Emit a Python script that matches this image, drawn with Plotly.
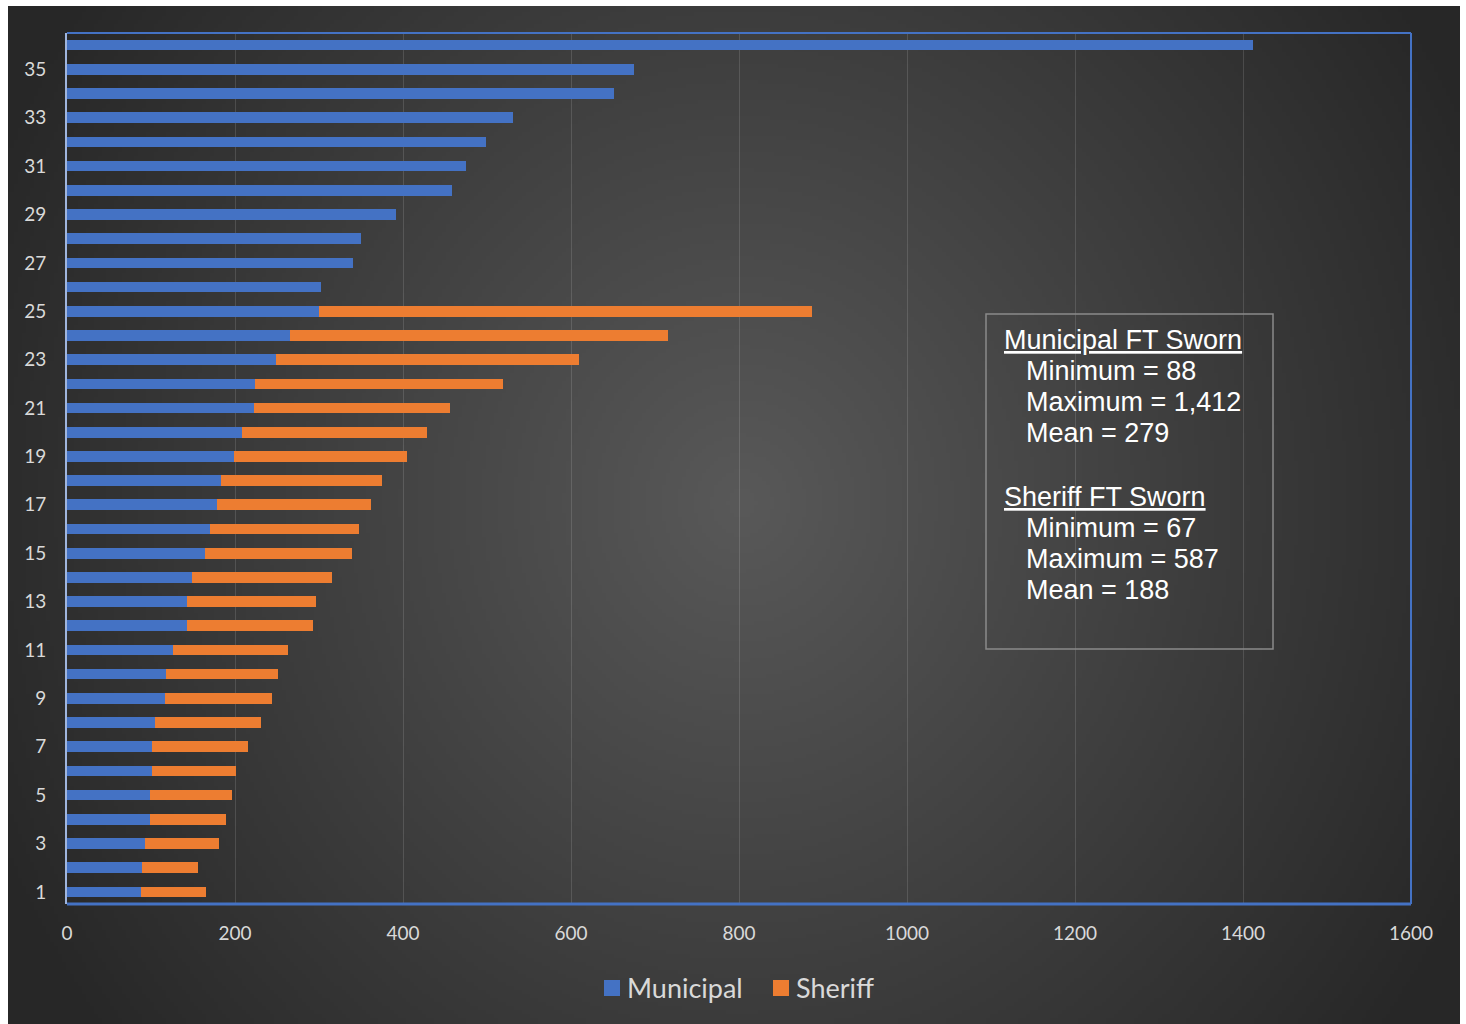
import base64
import struct
import zlib

import numpy as np
import plotly.graph_objects as go

# ---------------- data ----------------
agencies = [1, 2, 3, 4, 5, 6, 7, 8, 9, 10, 11, 12, 13, 14, 15, 16, 17, 18,
            19, 20, 21, 22, 23, 24, 25, 26, 27, 28, 29, 30, 31, 32, 33, 34, 35, 36]
municipal = [88, 89, 93, 99, 99, 101, 101, 105, 117, 118, 126, 143, 143, 149, 164, 170, 179, 183,
             199, 208, 223, 224, 249, 265, 300, 302, 340, 350, 392, 458, 475, 499, 531, 651, 675, 1412]
sheriff = [77, 67, 88, 90, 97, 100, 114, 126, 127, 133, 137, 150, 153, 167, 175, 178, 183, 192,
           206, 221, 233, 295, 361, 450, 587, None, None, None, None, None, None, None, None, None, None, None]
y_tick_vals = [1, 3, 5, 7, 9, 11, 13, 15, 17, 19, 21, 23, 25, 27, 29, 31, 33, 35]
y_tick_text = ["1", "3", "5", "7", "9", "11", "13", "15", "17", "19", "21", "23", "25", "27",
               "29", "31", "33", "35"]
x_tick_vals = [0, 200, 400, 600, 800, 1000, 1200, 1400, 1600]
x_tick_text = ["0", "200", "400", "600", "800", "1000", "1200", "1400", "1600"]
series_names = ["Municipal", "Sheriff"]
series_colors = ["#4472C4", "#ED7D31"]
box_lines_muni = ["Municipal FT Sworn", "Minimum = 88", "Maximum = 1,412", "Mean = 279"]
box_lines_sher = ["Sheriff FT Sworn", "Minimum = 67", "Maximum = 587", "Mean = 188"]

# ---------------- layout geometry ----------------
W, H = 1466, 1024
L, R, T, B = 67, 1411, 33, 904          # plot area in pixels
PW, PH = R - L, B - T


def px(x):
    return (x - L) / PW


def py(y):
    return (B - y) / PH


# ---------------- radial gradient background ----------------
def png_uri(arr):
    h, w, _ = arr.shape
    raw = b"".join(b"\x00" + arr[i].tobytes() for i in range(h))

    def chunk(tag, data):
        c = struct.pack(">I", len(data)) + tag + data
        return c + struct.pack(">I", zlib.crc32(tag + data) & 0xFFFFFFFF)

    png = b"\x89PNG\r\n\x1a\n"
    png += chunk(b"IHDR", struct.pack(">IIBBBBB", w, h, 8, 2, 0, 0, 0))
    png += chunk(b"IDAT", zlib.compress(raw, 9))
    png += chunk(b"IEND", b"")
    return "data:image/png;base64," + base64.b64encode(png).decode()


bx0, by0, bx1, by1 = 8, 6, 1460, 1024
sc = 4
gw, gh = (bx1 - bx0) // sc, (by1 - by0) // sc
yy, xx = np.mgrid[0:gh, 0:gw].astype(float)
cx, cy = (740 - bx0) / sc, (500 - by0) / sc
t = np.sqrt(((xx - cx) / (820 / sc)) ** 2 + ((yy - cy) / (880 / sc)) ** 2)
t = np.clip(t, 0, 1)
c_in, c_out = 89.0, 39.0
val = (c_out + (c_in - c_out) * (1 - t)).astype(np.uint8)
img = np.stack([val, val, val], axis=-1)
bg_uri = png_uri(img)

# ---------------- figure ----------------
fig = go.Figure()
fig.add_trace(go.Bar(y=agencies, x=municipal, orientation="h", name=series_names[0],
                     marker=dict(color=series_colors[0], line=dict(width=0))))
fig.add_trace(go.Bar(y=agencies, x=sheriff, orientation="h", name=series_names[1],
                     marker=dict(color=series_colors[1], line=dict(width=0))))

tick_font = dict(family="Lato, Carlito, Open Sans, sans-serif", size=19, color="#d9d9d9")

fig.update_layout(
    width=W, height=H, autosize=False,
    margin=dict(l=L, r=W - R, t=T, b=H - B, pad=0),
    paper_bgcolor="white",
    plot_bgcolor="rgba(0,0,0,0)",
    barmode="stack",
    bargap=0.56,
    showlegend=False,
    xaxis=dict(range=[0, 1600], tickvals=x_tick_vals, ticktext=x_tick_text,
               showgrid=True, gridcolor="rgba(255,255,255,0.13)", gridwidth=1,
               zeroline=False, showline=False, tickfont=tick_font, ticks="",
               ticklabelstandoff=16, fixedrange=True),
    yaxis=dict(range=[0.5, 36.5], tickvals=y_tick_vals, ticktext=y_tick_text,
               showgrid=False, zeroline=False, showline=True, linecolor="#9fb5de",
               linewidth=2, tickfont=tick_font, ticks="", ticklabelstandoff=15,
               fixedrange=True),
)

fig.add_layout_image(dict(source=bg_uri, xref="paper", yref="paper",
                          x=px(bx0), y=py(by0), sizex=(bx1 - bx0) / PW, sizey=(by1 - by0) / PH,
                          xanchor="left", yanchor="top", sizing="stretch", layer="below"))

# plot-area border (top, right, bottom)
blue = "#4472C4"
fig.add_shape(type="line", xref="paper", yref="paper", x0=0, x1=1, y0=1, y1=1,
              line=dict(color=blue, width=2))
fig.add_shape(type="line", xref="paper", yref="paper", x0=1, x1=1, y0=0, y1=1,
              line=dict(color=blue, width=2))
fig.add_shape(type="line", xref="paper", yref="paper", x0=0, x1=1, y0=0, y1=0,
              line=dict(color=blue, width=3))

# legend (drawn manually to match the square swatches)
leg_font = dict(family="Lato, Carlito, Open Sans, sans-serif", size=27, color="#d9d9d9")
for name, color, sx in zip(series_names, series_colors, [604, 773]):
    fig.add_shape(type="rect", xref="paper", yref="paper", x0=px(sx), x1=px(sx + 16),
                  y0=py(996), y1=py(980), line=dict(width=0), fillcolor=color)
    fig.add_annotation(x=px(sx + 21), y=py(988), xref="paper", yref="paper", xanchor="left",
                       yanchor="middle", showarrow=False, text=name, font=leg_font)

# text box
fig.add_shape(type="rect", xref="paper", yref="paper", x0=px(986), x1=px(1273),
              y0=py(649), y1=py(314), line=dict(color="#8a8a8a", width=1.5),
              fillcolor="rgba(0,0,0,0)")

box_font = dict(family="Liberation Sans, Arial, sans-serif", size=27, color="white")
rows = [(box_lines_muni[0], 1002, 340, True)]
rows += [(s, 1024, y, False) for s, y in zip(box_lines_muni[1:], [371, 402, 433])]
rows += [(box_lines_sher[0], 1002, 497, True)]
rows += [(s, 1024, y, False) for s, y in zip(box_lines_sher[1:], [528, 559, 590])]
for text, x, y, ul in rows:
    fig.add_annotation(x=px(x), y=py(y), xref="paper", yref="paper", xanchor="left",
                       yanchor="middle", showarrow=False, align="left",
                       text=f"<u>{text}</u>" if ul else text, font=box_font)

fig.write_html("out.html")
